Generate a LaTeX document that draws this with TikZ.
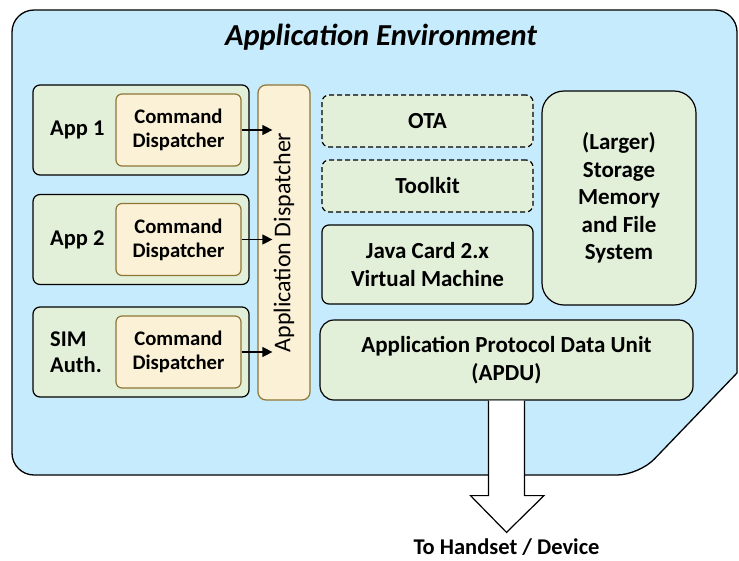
\documentclass[tikz,border=0pt]{standalone}
\usepackage{fontspec}
\setmainfont{Carlito}
\usetikzlibrary{positioning,calc,arrows.meta}

\definecolor{envblue}{RGB}{198,235,252}
\definecolor{boxgreen}{RGB}{226,239,217}
\definecolor{dispbeige}{RGB}{251,241,214}
\definecolor{dispbrown}{RGB}{143,118,54}

\tikzset{
  greenbox/.style={draw, fill=boxgreen, line width=1.2pt, rounded corners=7pt, align=center,
    font=\fontsize{23}{27.5}\selectfont\bfseries},
  dashbox/.style={greenbox, dash pattern=on 5pt off 3pt},
  cmdbox/.style={draw=dispbrown, fill=dispbeige, line width=1.2pt, rounded corners=6pt, align=center,
    minimum width=125pt, minimum height=72pt, font=\fontsize{20.7}{24}\selectfont\bfseries},
  applabel/.style={align=left, inner sep=0pt, font=\fontsize{22.5}{26}\selectfont\bfseries},
  callarrow/.style={-{Triangle[length=10pt,width=10pt]}, line width=1.2pt},
}

\begin{document}
\begin{tikzpicture}[x=1pt, y=-1pt]
        \useasboundingbox (0,0) rectangle (739,560);

        % Environment
        \draw[fill=envblue, line width=1.3pt, rounded corners=22pt]
          (737,200) -- (737,10) -- (12,10) -- (12,475) -- (639,475)
          [sharp corners] -- (737,373) -- cycle;
        \node[font=\fontsize{30.5}{34}\selectfont\bfseries\itshape] (title) at (381,37) {Application Environment};

        % Applications
        \foreach \i/\y/\name in {1/130/{App 1}, 2/239.5/{App 2}, 3/352/{SIM\\Auth.}}
        {
        \node[greenbox, minimum width=216pt, minimum height=90pt] (app\i) at (141,\y) {};
        \node[cmdbox] (cmd\i) at (178.5,\y) {Command\\Dispatcher};
        \node[applabel, anchor=west] (lbl\i) at (50,\y) {\name};
        }

        % Application Dispatcher
        \node[draw=dispbrown, fill=dispbeige, line width=1.2pt, rounded corners=8pt, rotate=90,
          minimum width=315pt, minimum height=52pt, font=\fontsize{24}{28}\selectfont] (appdisp) at (284,242.5) {Application Dispatcher};

        % Runtime
        \node[dashbox, minimum width=211pt, minimum height=52pt] (ota) at (427.5,121) {OTA};
        \node[dashbox, minimum width=211pt, minimum height=52pt] (toolkit) at (427.5,186) {Toolkit};
        \node[greenbox, minimum width=211pt, minimum height=79pt] (jcvm) at (427.5,264.5) {Java Card 2.x\\Virtual Machine};
        \node[greenbox, rounded corners=22pt, minimum width=154pt, minimum height=214pt] (storage) at (619,198)
          {(Larger)\\Storage\\Memory\\and File\\System};
        \node[greenbox, rounded corners=14pt, minimum width=373pt, minimum height=80pt] (apdu) at (506.5,360)
          {Application Protocol Data Unit\\(APDU)};

        % Output
        \node[inner sep=1pt, font=\fontsize{22.5}{26}\selectfont\bfseries] (device) at (506.5,547) {To Handset / Device};

        % Arrows
        \foreach \i in {1,2,3}
        \draw[callarrow, shorten >=-15pt] (cmd\i.east) -- (cmd\i.east -| appdisp.north);

        \coordinate (tip) at ($(device.north)+(0,-5)$);
        \draw[fill=white, line width=1.2pt] ($(apdu.south)+(-18,0)$) -- ++(0,95) -- ++(-18,0) -- (tip)
          -- ($(apdu.south)+(37.5,95)$) -- ++(-19.5,0) -- ($(apdu.south)+(18,0)$);

\end{tikzpicture}
\end{document}
